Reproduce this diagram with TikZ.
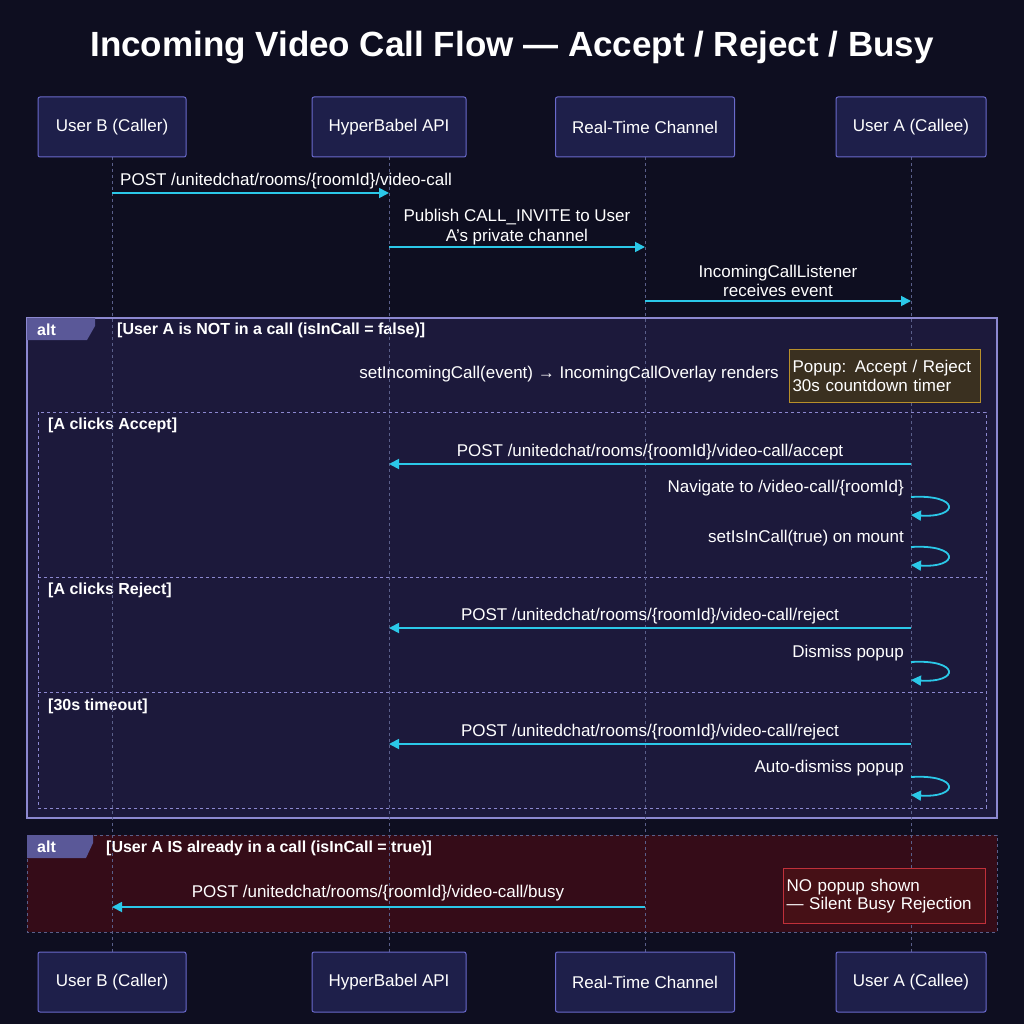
\documentclass[tikz,border=0pt]{standalone}
\usepackage{fontspec}
\setmainfont{Liberation Sans}
\usetikzlibrary{arrows.meta}
\definecolor{bg}{HTML}{0E0E20}
\definecolor{boxf}{HTML}{1E1F4A}
\definecolor{boxb}{HTML}{6A6ACC}
\definecolor{life}{HTML}{5A5F8A}
\definecolor{cy}{HTML}{2BC8E8}
\definecolor{altf}{HTML}{1F1C40}
\definecolor{altb}{HTML}{8C88D0}
\definecolor{tabf}{HTML}{5A5898}
\definecolor{busyf}{HTML}{3A0C18}
\definecolor{noteb}{HTML}{B8902A}
\definecolor{notef}{HTML}{3A3020}
\definecolor{redb}{HTML}{C0303A}
\definecolor{redf}{HTML}{461016}
\begin{document}
\begin{tikzpicture}[x=1pt,y=-1pt,
 actor/.style={draw=boxb,fill=boxf,rounded corners=2pt,line width=1pt,minimum height=60pt,text=white,font=\fontsize{17}{20}\selectfont},
 life/.style={draw=life,dashed,line width=1pt},
 msg/.style={draw=cy,line width=1.8pt,-{Triangle[length=10pt,width=10pt]}},
 lbl/.style={text=white,font=\fontsize{17}{19.5}\selectfont,inner sep=0pt,align=center},
 grd/.style={text=white,font=\bfseries\fontsize{16}{18}\selectfont,inner sep=0pt,anchor=west},
 note/.style={line width=1pt,text=white,align=left,font=\fontsize{17}{18.5}\selectfont,anchor=north west,inner sep=3pt},
 ]
\useasboundingbox (0,0) rectangle (1024,1024);
\fill[bg] (0,0) rectangle (1024,1024);
\node[text=white,font=\bfseries\fontsize{35}{40}\selectfont] (title) at (512,48) {Incoming Video Call Flow — Accept / Reject / Busy};
% lifelines
\foreach \n/\x in {b/112,api/389,rt/645,a/911}{
 \coordinate (\n t) at (\x,157); \coordinate (\n b) at (\x,952);
 \draw[life] (\n t) -- (\n b);}
% alt 1
\draw[altb,fill=altf,fill opacity=0.85,line width=1.2pt] (27,318) rectangle (997,818);
\fill[tabf] (27,318) -- (95,318) -- (95,326) -- (87,340) -- (27,340) -- cycle;
\node[grd] (alt1) at (37,330) {alt};
\node[grd] (g1) at (117,330) {[User A is NOT in a call (isInCall = false)]};
\draw[altb,dashed,line width=0.8pt] (38,412) rectangle (986,808);
\draw[altb,dashed,line width=0.8pt] (38,577) -- (986,577);
\draw[altb,dashed,line width=0.8pt] (38,692) -- (986,692);
\node[grd] at (48,425) {[A clicks Accept]};
\node[grd] at (48,590) {[A clicks Reject]};
\node[grd] at (48,706) {[30s timeout]};
% alt 2
\draw[life,dashed,fill=busyf,fill opacity=0.9,line width=1pt] (27,835) rectangle (997,932);
\fill[tabf] (27,835) -- (93,835) -- (93,843) -- (86,858) -- (27,858) -- cycle;
\node[grd] at (37,847) {alt};
\node[grd] at (106,848) {[User A IS already in a call (isInCall = true)]};
% redraw lifelines over boxes
\foreach \n in {b,api,rt,a}{\draw[life] (\n t) -- (\n b);}
% actors
\foreach \n/\x/\w/\t in {b/112/148/User B (Caller),api/389/154/HyperBabel API,rt/645/179/Real-Time Channel,a/911/150/User A (Callee)}{
 \node[actor,minimum width=\w pt] (\n top) at (\x,127) {\t};
 \node[actor,minimum width=\w pt] (\n bot) at (\x,982) {\t};}
% messages
\coordinate (m1s) at (112,193); \coordinate (m1e) at (389,193);
\draw[msg] (m1s) -- (m1e);
\node[lbl,anchor=west] at (120,181) {POST /unitedchat/rooms/\{roomId\}/video-call};
\coordinate (m2s) at (389,247); \coordinate (m2e) at (645,247);
\draw[msg] (m2s) -- (m2e);
\node[lbl] at (517,227) {Publish CALL\_INVITE to User\\A's private channel};
\coordinate (m3s) at (645,301); \coordinate (m3e) at (911,301);
\draw[msg] (m3s) -- (m3e);
\node[lbl] at (778,281) {IncomingCallListener\\receives event};
\node[lbl,anchor=east] at (779,374) {setIncomingCall(event) → IncomingCallOverlay renders};
\node[note,draw=noteb,fill=notef,minimum width=191pt,minimum height=53pt,text width=185pt] (note1) at (789,349) {Popup: Accept / Reject\\30s countdown timer};
% accept
\coordinate (acs) at (911,464); \coordinate (ace) at (389,464);
\draw[msg] (acs) -- (ace);
\node[lbl] at (650,452) {POST /unitedchat/rooms/\{roomId\}/video-call/accept};
\newcommand{\selfloop}[2]{%
 \coordinate (ls#1) at (911,#2); \coordinate (le#1) at (911,#2+18);
 \draw[draw=cy,line width=1.8pt,-{Triangle[length=10pt,width=10pt]}] (ls#1) .. controls (960,#2-3) and (960,#2+21) .. (le#1);}
\selfloop{1}{497}
\node[lbl,anchor=east] at (904,488) {Navigate to /video-call/\{roomId\}};
\selfloop{2}{547}
\node[lbl,anchor=east] at (904,538) {setIsInCall(true) on mount};
% reject
\coordinate (rjs) at (911,628); \coordinate (rje) at (389,628);
\draw[msg] (rjs) -- (rje);
\node[lbl] at (650,616) {POST /unitedchat/rooms/\{roomId\}/video-call/reject};
\selfloop{3}{662}
\node[lbl,anchor=east] at (904,653) {Dismiss popup};
% timeout
\coordinate (tos) at (911,744); \coordinate (toe) at (389,744);
\draw[msg] (tos) -- (toe);
\node[lbl] at (650,732) {POST /unitedchat/rooms/\{roomId\}/video-call/reject};
\selfloop{4}{777}
\node[lbl,anchor=east] at (904,768) {Auto-dismiss popup};
% busy
\coordinate (bus) at (645,907); \coordinate (bue) at (112,907);
\draw[msg] (bus) -- (bue);
\node[lbl] at (378,893) {POST /unitedchat/rooms/\{roomId\}/video-call/busy};
\node[note,draw=redb,fill=redf,minimum width=202pt,minimum height=55pt,text width=196pt] (note2) at (783,868) {NO popup shown\\— Silent Busy Rejection};
\end{tikzpicture}
\end{document}
